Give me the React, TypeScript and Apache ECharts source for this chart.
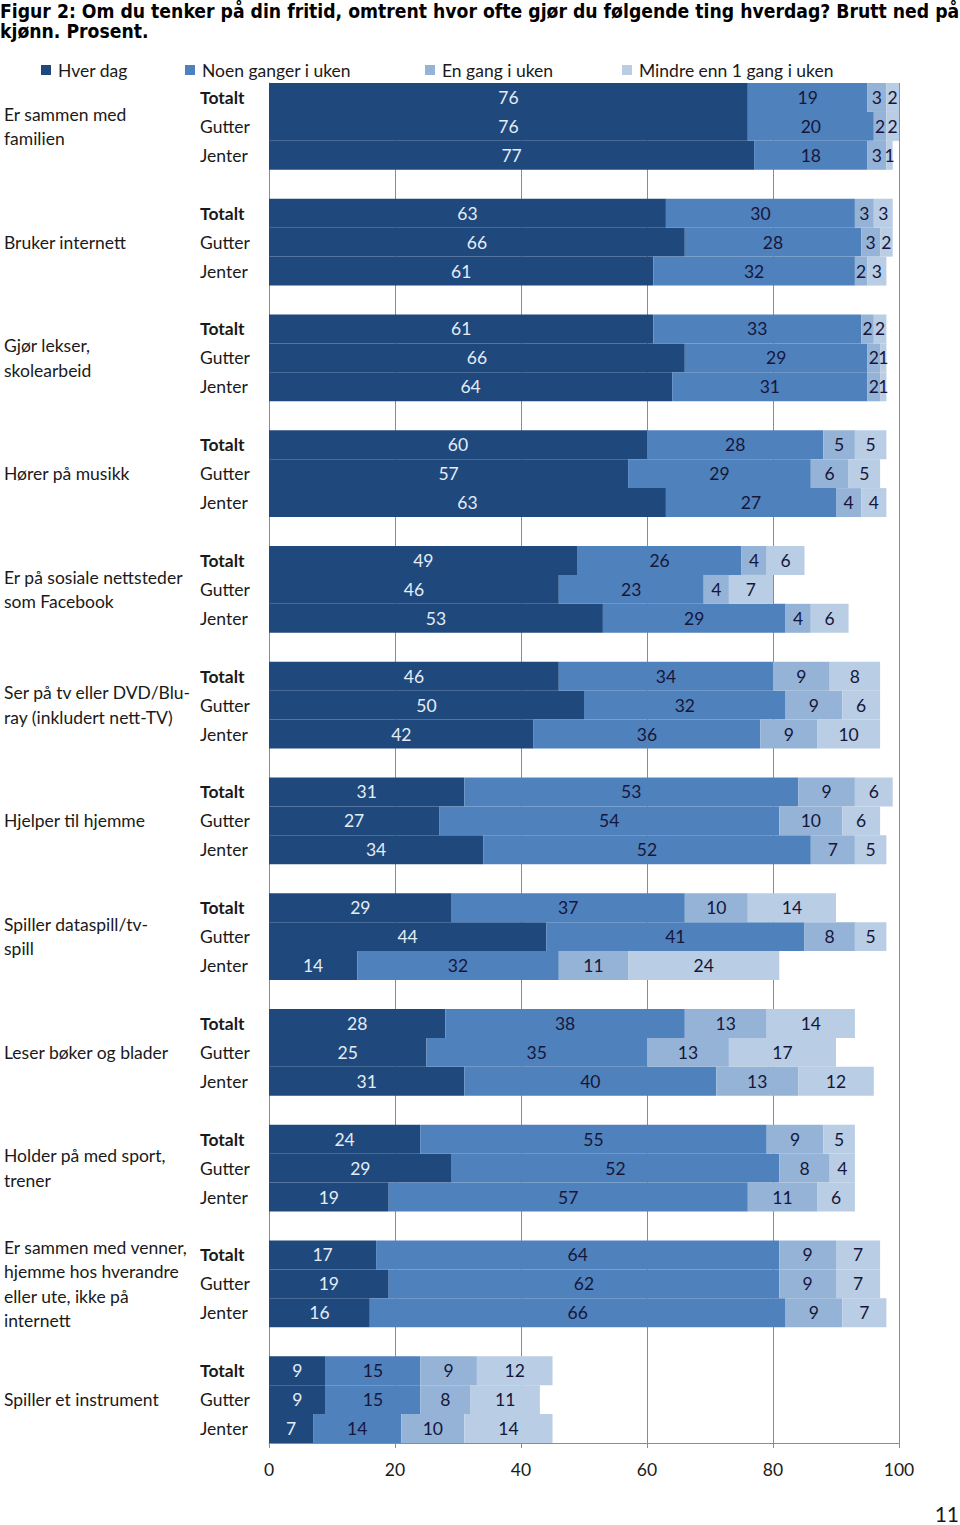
import React, { useEffect, useRef } from "react";
import * as echarts from "echarts";

const titleText =
  "Figur 2: Om du tenker på din fritid, omtrent hvor ofte gjør du følgende ting hverdag? Brutt ned på\nkjønn. Prosent.";

const groups = [
  "Er sammen med\nfamilien",
  "Bruker internett",
  "Gjør lekser,\nskolearbeid",
  "Hører på musikk",
  "Er på sosiale nettsteder\nsom Facebook",
  "Ser på tv eller DVD/Blu-\nray (inkludert nett-TV)",
  "Hjelper til hjemme",
  "Spiller dataspill/tv-\nspill",
  "Leser bøker og blader",
  "Holder på med sport,\ntrener",
  "Er sammen med venner,\nhjemme hos hverandre\neller ute, ikke på\ninternett",
  "Spiller et instrument",
];

const rowLabels = ["Totalt", "Gutter", "Jenter"];

const seriesNames = [
  "Hver dag",
  "Noen ganger i uken",
  "En gang i uken",
  "Mindre enn 1 gang i uken",
];

// values per group: Totalt, Gutter, Jenter
const hverDag = [
  76, 76, 77,
  63, 66, 61,
  61, 66, 64,
  60, 57, 63,
  49, 46, 53,
  46, 50, 42,
  31, 27, 34,
  29, 44, 14,
  28, 25, 31,
  24, 29, 19,
  17, 19, 16,
  9, 9, 7,
];
const noenGanger = [
  19, 20, 18,
  30, 28, 32,
  33, 29, 31,
  28, 29, 27,
  26, 23, 29,
  34, 32, 36,
  53, 54, 52,
  37, 41, 32,
  38, 35, 40,
  55, 52, 57,
  64, 62, 66,
  15, 15, 14,
];
const enGang = [
  3, 2, 3,
  3, 3, 2,
  2, 2, 2,
  5, 6, 4,
  4, 4, 4,
  9, 9, 9,
  9, 10, 7,
  10, 8, 11,
  13, 13, 13,
  9, 8, 11,
  9, 9, 9,
  9, 8, 10,
];
const mindreEnn = [
  2, 2, 1,
  3, 2, 3,
  2, 1, 1,
  5, 5, 4,
  6, 7, 6,
  8, 6, 10,
  6, 6, 5,
  14, 5, 24,
  14, 17, 12,
  5, 4, 6,
  7, 7, 7,
  12, 11, 14,
];

const xTicks = [0, 20, 40, 60, 80, 100];

const colors = ["#1F497D", "#4F81BD", "#95B3D7", "#B9CDE5"];
const labelColors = ["#E4ECF6", "#16163A", "#16163A", "#16163A"];

const FONT = "Lato";

export default function App() {
  const ref = useRef<HTMLDivElement>(null);

  useEffect(() => {
    if (!ref.current) return;
    const chart = echarts.init(ref.current, null, { renderer: "svg" });

    // build slots: 3 rows per group, plus one empty slot between groups
    const slotRow: string[] = [];
    const slotGroup: string[] = [];
    const slotIndex: (number | null)[] = [];
    groups.forEach((g, gi) => {
      rowLabels.forEach((r, ri) => {
        slotRow.push(r);
        slotGroup.push(ri === 1 ? g : "");
        slotIndex.push(gi * 3 + ri);
      });
      if (gi < groups.length - 1) {
        slotRow.push("");
        slotGroup.push("");
        slotIndex.push(null);
      }
    });
    const slotKeys = slotRow.map((_, i) => "s" + i);

    const allValues = [hverDag, noenGanger, enGang, mindreEnn];

    const series = allValues.map((vals, si) => ({
      name: seriesNames[si],
      type: "bar",
      stack: "total",
      barCategoryGap: "0%",
      barWidth: "100%",
      itemStyle: { color: colors[si] },
      label: {
        show: true,
        position: "inside",
        color: labelColors[si],
        fontFamily: FONT,
        fontSize: 17.5,
        formatter: (p: any) => (p.value == null ? "" : String(p.value)),
      },
      emphasis: { disabled: true },
      data: slotIndex.map((idx) => (idx == null ? null : vals[idx])),
    }));

    const legendLefts = [41, 185, 425, 622];

    chart.setOption({
      animation: false,
      title: {
        text: titleText,
        left: 0,
        top: 1,
        padding: 0,
        textStyle: {
          fontFamily: "DejaVu Sans Condensed",
          fontWeight: "bold",
          fontSize: 19.2,
          lineHeight: 20,
          color: "#000",
        },
      },
      legend: seriesNames.map((n, i) => ({
        data: [n],
        left: legendLefts[i],
        top: 61,
        padding: 0,
        itemWidth: 10,
        itemHeight: 10,
        icon: "rect",
        selectedMode: false,
        textStyle: { fontFamily: FONT, fontSize: 17.5, color: "#1a1a1a", padding: [0, 0, 0, 2] },
      })),
      grid: { left: 269, right: 61, top: 83, bottom: 82, containLabel: false },
      xAxis: {
        type: "value",
        min: 0,
        max: 100,
        interval: 20,
        axisLine: { show: true, lineStyle: { color: "#8C8C8C", width: 1 } },
        axisTick: { show: true, length: 5, lineStyle: { color: "#8C8C8C" } },
        splitLine: { show: true, lineStyle: { color: "#8C8C8C", width: 1 } },
        axisLabel: {
          fontFamily: FONT,
          fontSize: 17.5,
          color: "#1a1a1a",
          margin: 17,
          formatter: (v: number) => (xTicks.includes(v) ? String(v) : ""),
        },
      },
      yAxis: [
        {
          type: "category",
          inverse: true,
          data: slotKeys,
          axisLine: { show: true, lineStyle: { color: "#8C8C8C" } },
          axisTick: { show: false },
          axisLabel: {
            interval: 0,
            align: "left",
            margin: 69,
            fontFamily: FONT,
            fontSize: 17.5,
            color: "#1a1a1a",
            formatter: (_v: string, i: number) =>
              slotRow[i] === "Totalt" ? "{b|Totalt}" : slotRow[i],
            rich: {
              b: { fontFamily: FONT, fontSize: 17.5, fontWeight: "bold", color: "#1a1a1a" },
            },
          },
        },
        {
          type: "category",
          inverse: true,
          position: "left",
          data: slotKeys,
          axisLine: { show: false },
          axisTick: { show: false },
          axisLabel: {
            interval: 0,
            align: "left",
            margin: 265,
            fontFamily: FONT,
            fontSize: 17.5,
            lineHeight: 24.5,
            color: "#1a1a1a",
            formatter: (_v: string, i: number) => slotGroup[i],
          },
        },
      ],
      graphic: [
        {
          type: "text",
          right: 1,
          top: 1503,
          style: { text: "11", fontFamily: FONT, fontSize: 21, fill: "#1a1a1a" },
        },
      ],
      series,
    });

    return () => chart.dispose();
  }, []);

  return (
    <div
      ref={ref}
      style={{ position: "absolute", left: 0, top: 0, width: 960, height: 1525, background: "#fff" }}
    />
  );
}
